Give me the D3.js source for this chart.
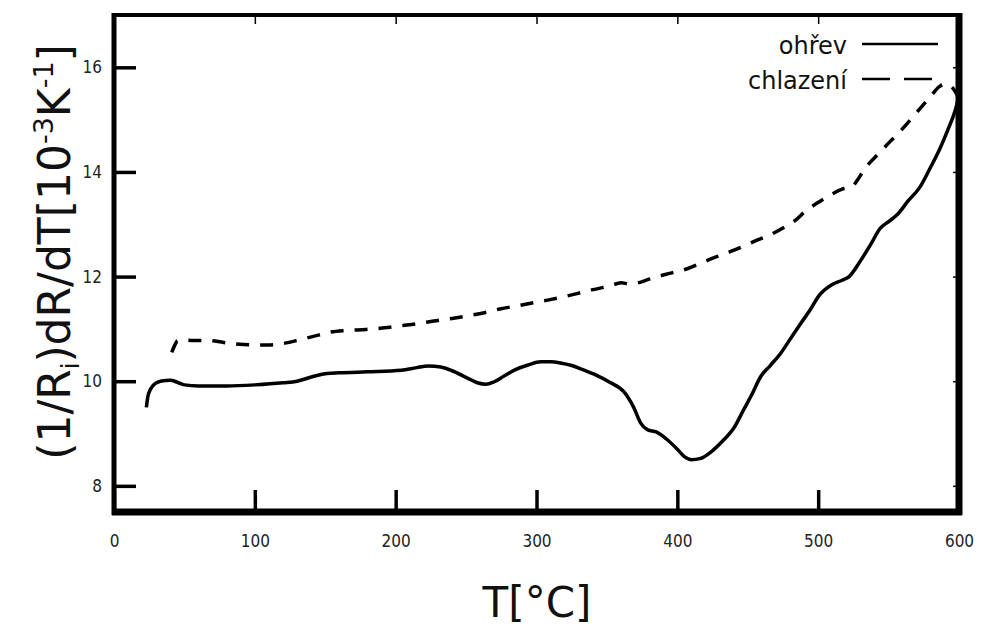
<!DOCTYPE html>
<html>
<head>
<meta charset="utf-8">
<script src="https://cdn.jsdelivr.net/npm/d3@7"></script>
<style>
  body { margin: 0; background: #fff; }
  text { font-family: "DejaVu Sans", Verdana, sans-serif; }
</style>
</head>
<body>
<script>
// ohřev (heating) - solid curve
var heatT = [23, 24, 26, 29, 33, 40, 45, 50, 60, 80, 100, 120, 130, 140, 147, 160, 180, 204, 215, 223, 232,
  240, 251, 258, 264, 270, 277, 285, 294, 303, 310, 317, 325, 333, 342, 352, 362, 369, 374, 379, 385,
  392, 400, 405, 410, 416, 424, 433, 440, 447, 453, 459, 466, 473, 480, 487, 494, 501, 510, 517, 522,
  530, 537, 544, 550, 556, 564, 572, 580, 586, 592, 597, 600];
var heatV = [9.5, 9.7, 9.85, 9.95, 10.0, 10.02, 9.98, 9.93, 9.91, 9.91, 9.93, 9.97, 10.0, 10.08, 10.13, 10.16, 10.18, 10.21, 10.26, 10.29, 10.27,
  10.2, 10.06, 9.97, 9.94, 9.99, 10.1, 10.22, 10.31, 10.37, 10.37, 10.35, 10.3, 10.22, 10.12, 9.98, 9.8, 9.5, 9.2, 9.07, 9.03,
  8.9, 8.7, 8.56, 8.5, 8.52, 8.65, 8.88, 9.1, 9.45, 9.75, 10.08, 10.3, 10.52, 10.8, 11.08, 11.35, 11.65, 11.85, 11.93, 12.0,
  12.3, 12.6, 12.92, 13.05, 13.18, 13.45, 13.7, 14.1, 14.42, 14.8, 15.15, 15.45];

// chlazení (cooling) - dashed curve
var coolT = [41, 43, 45, 49, 55, 67, 78, 92, 109, 120, 133, 145, 154, 165, 179, 192, 204, 216, 227, 240, 251,
  263, 274, 286, 298, 308, 317, 328, 340, 352, 360, 366, 372, 380, 386, 396, 407, 417, 427, 437, 447,
  457, 466, 475, 484, 491, 499, 508, 517, 524, 528, 532, 544, 551, 558, 565, 572, 580, 586, 590, 594, 597, 600];
var coolV = [10.55, 10.68, 10.77, 10.79, 10.78, 10.78, 10.74, 10.7, 10.69, 10.72, 10.8, 10.88, 10.94, 10.97, 10.99, 11.02, 11.06, 11.1, 11.15, 11.2, 11.25,
  11.31, 11.38, 11.44, 11.5, 11.55, 11.6, 11.67, 11.75, 11.82, 11.88, 11.86, 11.88, 11.95, 12.0, 12.07, 12.15, 12.26, 12.37, 12.47, 12.58,
  12.7, 12.8, 12.93, 13.08, 13.25, 13.4, 13.55, 13.67, 13.72, 13.85, 14.02, 14.38, 14.58, 14.77, 14.98, 15.2, 15.45, 15.63, 15.68, 15.65, 15.55, 15.4];

var xTicks = [0, 100, 200, 300, 400, 500, 600];
var yTicks = [8, 10, 12, 14, 16];
var seriesNames = ["ohřev", "chlazení"];

var w = 984, h = 628;
var mLeft = 114, mRight = 959, mTop = 15, mBottom = 512;

var svg = d3.select("body").append("svg")
  .attr("width", w)
  .attr("height", h);

var x = d3.scaleLinear().domain([0, 600]).range([mLeft, mRight]);
var y = d3.scaleLinear().domain([7.5, 17]).range([mBottom, mTop]);

// inward ticks on bottom / left
var xAxis = d3.axisBottom(x).tickValues(xTicks).tickSize(-22).tickPadding(23).tickFormat(d3.format("d"));
var yAxis = d3.axisLeft(y).tickValues(yTicks).tickSize(-22).tickPadding(12).tickFormat(d3.format("d"));

var gx = svg.append("g").attr("transform", "translate(0," + mBottom + ")").call(xAxis);
var gy = svg.append("g").attr("transform", "translate(" + mLeft + ",0)").call(yAxis);
[gx, gy].forEach(function(g) {
  g.select(".domain").remove();
  g.selectAll(".tick line").attr("stroke", "#000").attr("stroke-width", 3.5);
  g.selectAll(".tick text").attr("fill", "#222")
    .style("font-family", "'DejaVu Sans Condensed', 'DejaVu Sans', sans-serif")
    .style("font-size", "17px");
});

// small mirror ticks on top / right
var gxTop = svg.append("g").attr("transform", "translate(0," + mTop + ")")
  .call(d3.axisTop(x).tickValues(xTicks.slice(1, -1)).tickSize(-9).tickFormat(""));
var gyRight = svg.append("g").attr("transform", "translate(" + mRight + ",0)")
  .call(d3.axisRight(y).tickValues(yTicks).tickSize(-6).tickFormat(""));
[gxTop, gyRight].forEach(function(g) {
  g.select(".domain").remove();
  g.selectAll(".tick line").attr("stroke", "#000").attr("stroke-width", 1.5);
});

// curves
var line = d3.line()
  .x(function(d) { return x(d[0]); })
  .y(function(d) { return y(d[1]); })
  .curve(d3.curveMonotoneX);

var heat = d3.zip(heatT, heatV);
var cool = d3.zip(coolT, coolV);

svg.append("path")
  .datum(cool)
  .attr("d", line)
  .attr("fill", "none")
  .attr("stroke", "#000")
  .attr("stroke-width", 3.5)
  .attr("stroke-dasharray", "13,11");

svg.append("path")
  .datum(heat)
  .attr("d", line)
  .attr("fill", "none")
  .attr("stroke", "#000")
  .attr("stroke-width", 3.5);

// frame (thick border)
svg.append("line").attr("x1", mLeft).attr("x2", mLeft).attr("y1", mTop - 2).attr("y2", mBottom + 3)
  .attr("stroke", "#000").attr("stroke-width", 5);
svg.append("line").attr("x1", mRight).attr("x2", mRight).attr("y1", mTop - 2).attr("y2", mBottom + 3)
  .attr("stroke", "#000").attr("stroke-width", 7);
svg.append("line").attr("x1", mLeft - 2).attr("x2", mRight + 3).attr("y1", mTop).attr("y2", mTop)
  .attr("stroke", "#000").attr("stroke-width", 4);
svg.append("line").attr("x1", mLeft - 2).attr("x2", mRight + 3).attr("y1", mBottom).attr("y2", mBottom)
  .attr("stroke", "#000").attr("stroke-width", 7);

// legend
var legend = svg.append("g");
var legY = [44, 79];
legend.selectAll("text").data(seriesNames).enter().append("text")
  .attr("x", 847)
  .attr("y", function(d, i) { return legY[i] + 10; })
  .attr("text-anchor", "end")
  .style("font-size", "24px")
  .attr("fill", "#111")
  .text(function(d) { return d; });
legend.selectAll("line").data(seriesNames).enter().append("line")
  .attr("x1", 862).attr("x2", 938)
  .attr("y1", function(d, i) { return legY[i]; })
  .attr("y2", function(d, i) { return legY[i]; })
  .attr("stroke", "#000")
  .attr("stroke-width", 2.5)
  .attr("stroke-dasharray", function(d, i) { return i === 1 ? "28,14" : null; });

// axis titles
svg.append("text")
  .attr("x", 537)
  .attr("y", 617)
  .attr("text-anchor", "middle")
  .style("font-size", "42px")
  .attr("fill", "#111")
  .text("T[°C]");

var yl = svg.append("text")
  .attr("transform", "translate(70,252) rotate(-90)")
  .attr("text-anchor", "middle")
  .style("font-size", "44px")
  .attr("fill", "#111");
yl.append("tspan").text("(1/R");
yl.append("tspan").attr("dy", 9).style("font-size", "24px").text("i");
yl.append("tspan").attr("dy", -9).text(")dR/dT[10");
yl.append("tspan").attr("dy", -17).style("font-size", "27px").text("-3");
yl.append("tspan").attr("dy", 17).text("K");
yl.append("tspan").attr("dy", -17).style("font-size", "27px").text("-1");
yl.append("tspan").attr("dy", 17).text("]");
</script>
</body>
</html>
